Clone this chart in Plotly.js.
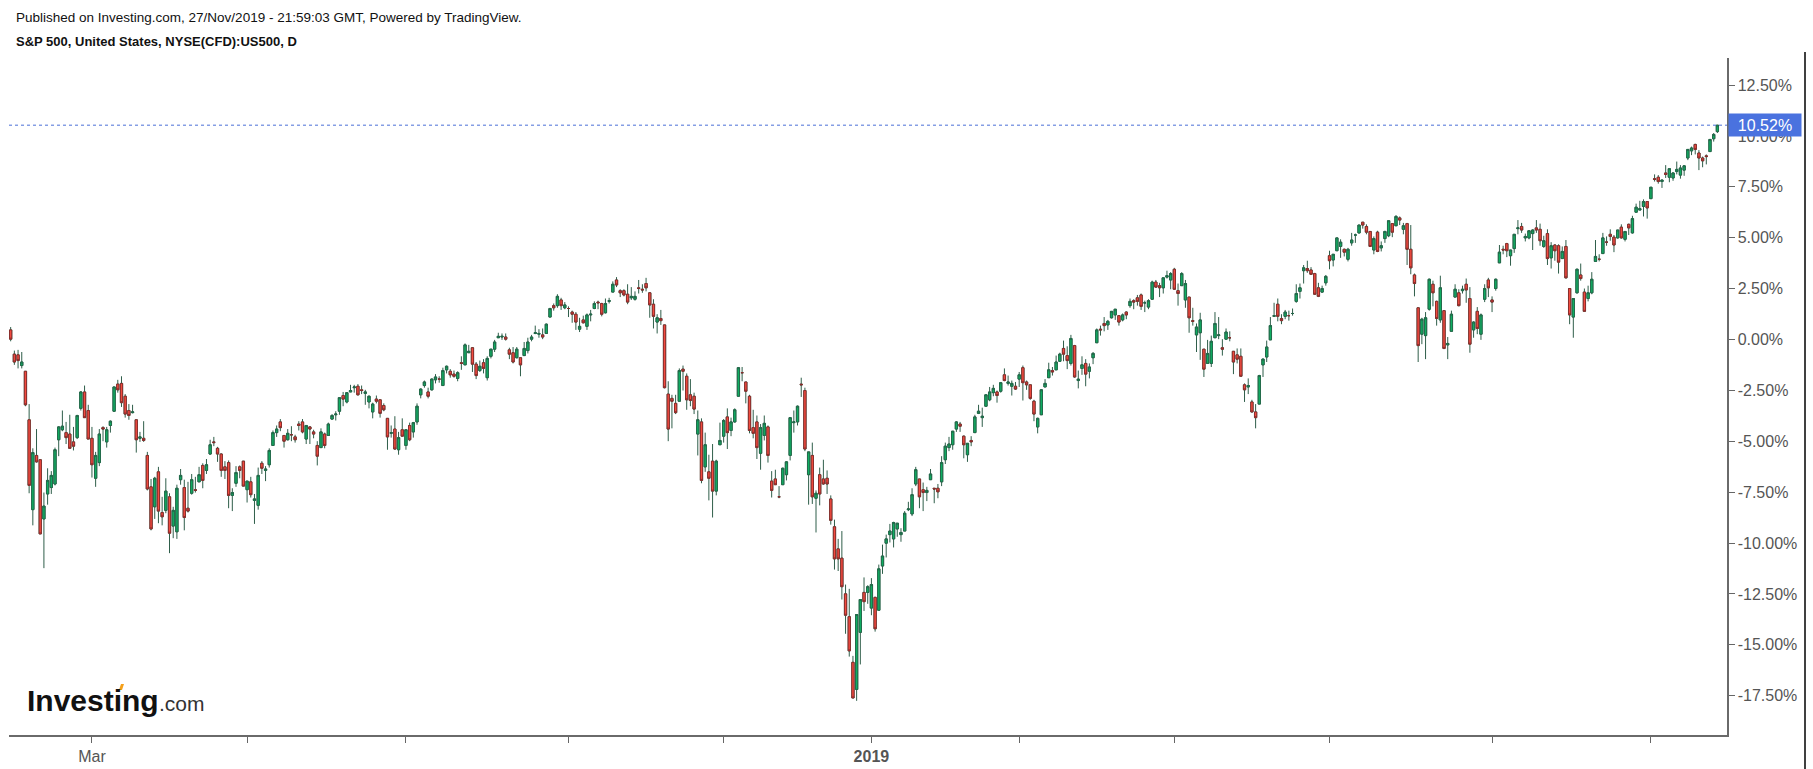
<!DOCTYPE html>
<html>
<head>
<meta charset="utf-8">
<script src="https://cdn.plot.ly/plotly-3.0.1.min.js"></script>
<style>
html,body{margin:0;padding:0;background:#fff;}
#chart{width:1813px;height:769px;}
</style>
</head>
<body>
<div id="chart"></div>
<script>
// ---- Data: S&P 500 (US500 CFD) daily candles, index points ----
const dates = [
'2018-01-29','2018-01-30','2018-01-31',
'2018-02-01','2018-02-02','2018-02-05','2018-02-06','2018-02-07','2018-02-08','2018-02-09','2018-02-12','2018-02-13','2018-02-14','2018-02-15','2018-02-16','2018-02-20','2018-02-21','2018-02-22','2018-02-23','2018-02-26','2018-02-27','2018-02-28',
'2018-03-01','2018-03-02','2018-03-05','2018-03-06','2018-03-07','2018-03-08','2018-03-09','2018-03-12','2018-03-13','2018-03-14','2018-03-15','2018-03-16','2018-03-19','2018-03-20','2018-03-21','2018-03-22','2018-03-23','2018-03-26','2018-03-27','2018-03-28','2018-03-29',
'2018-04-02','2018-04-03','2018-04-04','2018-04-05','2018-04-06','2018-04-09','2018-04-10','2018-04-11','2018-04-12','2018-04-13','2018-04-16','2018-04-17','2018-04-18','2018-04-19','2018-04-20','2018-04-23','2018-04-24','2018-04-25','2018-04-26','2018-04-27','2018-04-30',
'2018-05-01','2018-05-02','2018-05-03','2018-05-04','2018-05-07','2018-05-08','2018-05-09','2018-05-10','2018-05-11','2018-05-14','2018-05-15','2018-05-16','2018-05-17','2018-05-18','2018-05-21','2018-05-22','2018-05-23','2018-05-24','2018-05-25','2018-05-29','2018-05-30','2018-05-31',
'2018-06-01','2018-06-04','2018-06-05','2018-06-06','2018-06-07','2018-06-08','2018-06-11','2018-06-12','2018-06-13','2018-06-14','2018-06-15','2018-06-18','2018-06-19','2018-06-20','2018-06-21','2018-06-22','2018-06-25','2018-06-26','2018-06-27','2018-06-28','2018-06-29',
'2018-07-02','2018-07-03','2018-07-05','2018-07-06','2018-07-09','2018-07-10','2018-07-11','2018-07-12','2018-07-13','2018-07-16','2018-07-17','2018-07-18','2018-07-19','2018-07-20','2018-07-23','2018-07-24','2018-07-25','2018-07-26','2018-07-27','2018-07-30','2018-07-31',
'2018-08-01','2018-08-02','2018-08-03','2018-08-06','2018-08-07','2018-08-08','2018-08-09','2018-08-10','2018-08-13','2018-08-14','2018-08-15','2018-08-16','2018-08-17','2018-08-20','2018-08-21','2018-08-22','2018-08-23','2018-08-24','2018-08-27','2018-08-28','2018-08-29','2018-08-30','2018-08-31',
'2018-09-04','2018-09-05','2018-09-06','2018-09-07','2018-09-10','2018-09-11','2018-09-12','2018-09-13','2018-09-14','2018-09-17','2018-09-18','2018-09-19','2018-09-20','2018-09-21','2018-09-24','2018-09-25','2018-09-26','2018-09-27','2018-09-28',
'2018-10-01','2018-10-02','2018-10-03','2018-10-04','2018-10-05','2018-10-08','2018-10-09','2018-10-10','2018-10-11','2018-10-12','2018-10-15','2018-10-16','2018-10-17','2018-10-18','2018-10-19','2018-10-22','2018-10-23','2018-10-24','2018-10-25','2018-10-26','2018-10-29','2018-10-30','2018-10-31',
'2018-11-01','2018-11-02','2018-11-05','2018-11-06','2018-11-07','2018-11-08','2018-11-09','2018-11-12','2018-11-13','2018-11-14','2018-11-15','2018-11-16','2018-11-19','2018-11-20','2018-11-21','2018-11-23','2018-11-26','2018-11-27','2018-11-28','2018-11-29','2018-11-30',
'2018-12-03','2018-12-04','2018-12-06','2018-12-07','2018-12-10','2018-12-11','2018-12-12','2018-12-13','2018-12-14','2018-12-17','2018-12-18','2018-12-19','2018-12-20','2018-12-21','2018-12-24','2018-12-26','2018-12-27','2018-12-28','2018-12-31',
'2019-01-02','2019-01-03','2019-01-04','2019-01-07','2019-01-08','2019-01-09','2019-01-10','2019-01-11','2019-01-14','2019-01-15','2019-01-16','2019-01-17','2019-01-18','2019-01-22','2019-01-23','2019-01-24','2019-01-25','2019-01-28','2019-01-29','2019-01-30','2019-01-31',
'2019-02-01','2019-02-04','2019-02-05','2019-02-06','2019-02-07','2019-02-08','2019-02-11','2019-02-12','2019-02-13','2019-02-14','2019-02-15','2019-02-19','2019-02-20','2019-02-21','2019-02-22','2019-02-25','2019-02-26','2019-02-27','2019-02-28',
'2019-03-01','2019-03-04','2019-03-05','2019-03-06','2019-03-07','2019-03-08','2019-03-11','2019-03-12','2019-03-13','2019-03-14','2019-03-15','2019-03-18','2019-03-19','2019-03-20','2019-03-21','2019-03-22','2019-03-25','2019-03-26','2019-03-27','2019-03-28','2019-03-29',
'2019-04-01','2019-04-02','2019-04-03','2019-04-04','2019-04-05','2019-04-08','2019-04-09','2019-04-10','2019-04-11','2019-04-12','2019-04-15','2019-04-16','2019-04-17','2019-04-18','2019-04-22','2019-04-23','2019-04-24','2019-04-25','2019-04-26','2019-04-29','2019-04-30',
'2019-05-01','2019-05-02','2019-05-03','2019-05-06','2019-05-07','2019-05-08','2019-05-09','2019-05-10','2019-05-13','2019-05-14','2019-05-15','2019-05-16','2019-05-17','2019-05-20','2019-05-21','2019-05-22','2019-05-23','2019-05-24','2019-05-28','2019-05-29','2019-05-30','2019-05-31',
'2019-06-03','2019-06-04','2019-06-05','2019-06-06','2019-06-07','2019-06-10','2019-06-11','2019-06-12','2019-06-13','2019-06-14','2019-06-17','2019-06-18','2019-06-19','2019-06-20','2019-06-21','2019-06-24','2019-06-25','2019-06-26','2019-06-27','2019-06-28',
'2019-07-01','2019-07-02','2019-07-03','2019-07-05','2019-07-08','2019-07-09','2019-07-10','2019-07-11','2019-07-12','2019-07-15','2019-07-16','2019-07-17','2019-07-18','2019-07-19','2019-07-22','2019-07-23','2019-07-24','2019-07-25','2019-07-26','2019-07-29','2019-07-30','2019-07-31',
'2019-08-01','2019-08-02','2019-08-05','2019-08-06','2019-08-07','2019-08-08','2019-08-09','2019-08-12','2019-08-13','2019-08-14','2019-08-15','2019-08-16','2019-08-19','2019-08-20','2019-08-21','2019-08-22','2019-08-23','2019-08-26','2019-08-27','2019-08-28','2019-08-29','2019-08-30',
'2019-09-03','2019-09-04','2019-09-05','2019-09-06','2019-09-09','2019-09-10','2019-09-11','2019-09-12','2019-09-13','2019-09-16','2019-09-17','2019-09-18','2019-09-19','2019-09-20','2019-09-23','2019-09-24','2019-09-25','2019-09-26','2019-09-27','2019-09-30',
'2019-10-01','2019-10-02','2019-10-03','2019-10-04','2019-10-07','2019-10-08','2019-10-09','2019-10-10','2019-10-11','2019-10-14','2019-10-15','2019-10-16','2019-10-17','2019-10-18','2019-10-21','2019-10-22','2019-10-23','2019-10-24','2019-10-25','2019-10-28','2019-10-29','2019-10-30','2019-10-31',
'2019-11-01','2019-11-04','2019-11-05','2019-11-06','2019-11-07','2019-11-08','2019-11-11','2019-11-12','2019-11-13','2019-11-14','2019-11-15','2019-11-18','2019-11-19','2019-11-20','2019-11-21','2019-11-22','2019-11-25','2019-11-26','2019-11-27'
];
const opens = [
2867,2833,2832,
2817,2809,2741,2615,2691,2685,2602,2637,2646,2651,2713,2727,2723,2721,2710,2716,2757,2780,2754,
2715,2659,2681,2730,2710,2733,2753,2791,2792,2774,2754,2751,2741,2715,2715,2691,2647,2619,2668,2611,2614,
2633,2592,2584,2657,2646,2617,2638,2643,2654,2677,2670,2693,2710,2701,2693,2675,2681,2635,2652,2675,2683,
2643,2654,2628,2621,2680,2670,2678,2705,2723,2738,2719,2713,2720,2717,2735,2738,2714,2731,2724,2705,2702,2721,
2719,2742,2748,2753,2775,2766,2780,2786,2788,2783,2778,2766,2752,2770,2769,2761,2743,2722,2728,2699,2727,
2705,2733,2724,2738,2776,2789,2780,2783,2797,2798,2789,2811,2809,2805,2799,2821,2818,2835,2842,2819,2810,
2821,2800,2830,2840,2856,2857,2857,2839,2835,2828,2828,2831,2838,2854,2862,2861,2860,2862,2885,2901,2901,2909,2898,
2897,2892,2889,2868,2881,2872,2888,2897,2906,2904,2891,2907,2920,2937,2922,2922,2917,2912,2910,
2926,2924,2932,2919,2903,2878,2883,2874,2777,2771,2764,2767,2812,2802,2776,2774,2721,2738,2675,2668,2683,2641,2706,
2718,2745,2726,2738,2774,2807,2794,2774,2730,2738,2694,2719,2731,2655,2658,2633,2650,2664,2691,2737,2738,
2791,2782,2664,2691,2631,2664,2658,2659,2630,2591,2560,2547,2497,2465,2401,2363,2443,2499,2499,
2477,2492,2474,2536,2568,2580,2574,2588,2580,2585,2615,2609,2651,2658,2643,2639,2657,2645,2645,2654,2685,
2702,2706,2728,2735,2718,2692,2712,2723,2750,2744,2760,2769,2779,2780,2781,2804,2792,2788,2788,
2798,2814,2794,2790,2767,2731,2748,2787,2800,2810,2811,2823,2841,2831,2820,2845,2796,2813,2820,2809,2828,
2849,2868,2876,2874,2884,2888,2887,2881,2892,2901,2908,2912,2916,2905,2899,2910,2934,2929,2926,2941,2937,
2952,2922,2929,2909,2913,2880,2860,2863,2840,2820,2820,2856,2859,2842,2854,2856,2837,2832,2830,2790,2787,2766,
2752,2763,2818,2829,2853,2886,2903,2883,2886,2887,2890,2907,2921,2950,2953,2951,2946,2926,2920,2933,
2971,2965,2978,2984,2980,2966,2989,3000,3003,3018,3012,3005,2979,3004,2982,2995,2999,3016,3013,3024,3008,3016,
2980,2944,2898,2861,2859,2896,2931,2907,2881,2894,2846,2865,2913,2919,2922,2931,2911,2867,2893,2861,2910,2937,
2909,2925,2961,2980,2988,2971,2981,3009,3012,2996,2996,3002,3010,3008,2984,3002,2968,2986,2985,2967,
2984,2925,2885,2919,2944,2920,2911,2919,2963,2966,2974,2990,3001,2997,2996,3011,2994,3015,3003,3032,3035,3040,3047,
3051,3079,3081,3075,3087,3081,3080,3089,3084,3091,3108,3118,3127,3115,3108,3111,3117,3135,3145
];
const highs = [
2871,2838,2839,
2836,2809,2763,2701,2728,2685,2639,2673,2669,2702,2732,2754,2738,2748,2731,2748,2781,2789,2762,
2731,2696,2728,2732,2731,2740,2787,2797,2802,2777,2763,2762,2741,2724,2739,2696,2658,2661,2675,2633,2659,
2638,2619,2650,2672,2657,2654,2665,2661,2675,2680,2686,2713,2717,2703,2694,2683,2684,2645,2676,2677,2683,
2655,2661,2637,2674,2683,2676,2701,2726,2733,2742,2719,2728,2732,2720,2739,2742,2733,2732,2727,2711,2729,2723,
2737,2749,2753,2772,2780,2779,2790,2790,2791,2789,2783,2775,2765,2775,2769,2764,2743,2733,2746,2724,2743,
2727,2737,2738,2764,2785,2796,2786,2799,2805,2802,2814,2817,2812,2810,2809,2830,2848,2846,2843,2822,2824,
2826,2830,2840,2853,2863,2862,2862,2842,2843,2843,2828,2850,2856,2860,2873,2868,2869,2876,2898,2904,2917,2912,2906,
2900,2894,2892,2884,2887,2890,2895,2907,2908,2905,2911,2912,2935,2941,2924,2924,2931,2927,2921,
2937,2931,2940,2920,2910,2889,2895,2874,2795,2776,2776,2813,2817,2806,2798,2779,2754,2743,2723,2692,2707,2685,2737,
2742,2757,2744,2757,2815,2815,2794,2776,2755,2747,2735,2747,2733,2669,2671,2648,2674,2683,2744,2754,2761,
2800,2786,2696,2709,2642,2674,2685,2670,2635,2601,2574,2585,2510,2504,2410,2468,2489,2520,2509,
2519,2493,2538,2566,2580,2595,2598,2596,2589,2613,2626,2645,2675,2658,2653,2647,2672,2645,2651,2690,2709,
2717,2725,2739,2738,2719,2708,2718,2748,2762,2758,2776,2787,2790,2782,2794,2813,2803,2796,2794,
2808,2817,2796,2790,2769,2744,2784,2798,2821,2815,2831,2835,2852,2844,2860,2846,2810,2830,2826,2820,2836,
2869,2873,2885,2881,2893,2896,2887,2890,2893,2911,2910,2916,2918,2908,2910,2936,2937,2933,2940,2950,2948,
2954,2932,2948,2937,2913,2898,2876,2891,2840,2853,2859,2892,2885,2854,2869,2865,2837,2841,2841,2792,2799,2769,
2763,2804,2827,2852,2885,2905,2911,2889,2895,2894,2897,2931,2932,2958,2964,2955,2947,2933,2929,2944,
2978,2973,2996,2994,2981,2982,3003,3002,3014,3018,3015,3005,2998,3006,2991,3006,3020,3016,3028,3026,3017,3017,
3014,2946,2898,2884,2892,2939,2936,2908,2943,2894,2857,2894,2931,2924,2929,2939,2927,2879,2899,2890,2931,2940,
2914,2939,2986,2985,2989,2979,3001,3021,3017,3002,3006,3008,3021,3016,2999,3008,2990,2987,2987,2984,
2993,2925,2911,2953,2960,2925,2929,2948,2993,2973,3003,2998,3008,3000,3007,3015,3005,3016,3027,3044,3048,3050,3047,
3067,3085,3084,3078,3098,3093,3088,3103,3098,3098,3120,3124,3128,3119,3110,3113,3134,3143,3154
];
const lows = [
2851,2818,2813,
2813,2760,2638,2593,2681,2581,2533,2622,2637,2649,2690,2725,2707,2701,2698,2714,2754,2744,2714,
2660,2647,2676,2711,2702,2723,2752,2779,2759,2744,2741,2750,2695,2710,2710,2642,2586,2602,2596,2593,2610,
2554,2575,2574,2650,2586,2611,2636,2639,2654,2645,2665,2692,2704,2682,2661,2658,2617,2613,2647,2659,2648,
2625,2632,2595,2615,2665,2655,2674,2705,2717,2725,2702,2712,2711,2709,2726,2722,2707,2707,2715,2677,2702,2701,
2719,2741,2740,2748,2760,2764,2780,2779,2775,2777,2762,2757,2743,2764,2744,2753,2699,2716,2699,2692,2718,
2699,2711,2716,2734,2771,2786,2771,2782,2792,2793,2789,2806,2800,2800,2795,2811,2818,2835,2808,2798,2808,
2806,2796,2827,2836,2856,2853,2852,2826,2820,2827,2802,2831,2834,2851,2861,2856,2854,2862,2885,2894,2898,2895,2896,
2885,2877,2867,2864,2876,2867,2879,2896,2896,2886,2890,2904,2920,2927,2913,2914,2903,2909,2908,
2918,2919,2921,2884,2869,2862,2874,2785,2711,2729,2749,2767,2782,2755,2760,2749,2691,2652,2668,2628,2604,2635,2706,
2709,2700,2718,2737,2774,2795,2764,2722,2715,2686,2671,2712,2681,2632,2650,2631,2650,2656,2684,2723,2733,
2773,2697,2622,2623,2583,2621,2650,2637,2594,2531,2529,2489,2441,2409,2351,2347,2398,2473,2483,
2467,2444,2474,2525,2548,2569,2562,2577,2570,2585,2613,2606,2648,2617,2613,2627,2657,2624,2631,2648,2679,
2697,2699,2724,2724,2687,2682,2704,2723,2749,2731,2760,2767,2774,2765,2779,2795,2789,2775,2783,
2787,2768,2783,2769,2739,2722,2748,2787,2800,2803,2811,2822,2823,2812,2817,2800,2785,2804,2788,2799,2819,
2849,2859,2865,2867,2883,2881,2873,2879,2882,2898,2896,2901,2895,2892,2896,2909,2926,2913,2918,2939,2924,
2923,2901,2929,2898,2863,2873,2836,2825,2801,2820,2815,2856,2854,2831,2854,2851,2805,2820,2802,2766,2777,2751,
2729,2763,2801,2822,2853,2886,2879,2875,2882,2880,2887,2905,2911,2932,2947,2944,2916,2913,2919,2929,
2952,2956,2978,2968,2970,2963,2985,2989,3002,3009,3001,2984,2973,2976,2977,2989,2997,2997,3013,3014,3001,2958,
2945,2914,2822,2847,2826,2894,2900,2873,2877,2840,2826,2865,2913,2900,2918,2905,2835,2856,2861,2853,2906,2913,
2892,2922,2961,2973,2969,2957,2975,3001,3003,2991,2994,2979,3003,2985,2982,2958,2953,2964,2946,2967,
2939,2875,2856,2918,2936,2893,2907,2917,2963,2963,2974,2985,2992,2976,2995,2995,2991,3000,3002,3032,3035,3026,3023,
3051,3075,3072,3066,3080,3074,3076,3085,3079,3083,3105,3112,3113,3091,3095,3099,3117,3131,3143
];
const closes = [
2854,2822,2824,
2822,2762,2649,2695,2682,2581,2620,2656,2663,2699,2731,2732,2716,2701,2704,2747,2780,2744,2714,
2678,2691,2721,2728,2727,2739,2787,2783,2765,2749,2747,2752,2713,2717,2712,2644,2588,2659,2613,2605,2641,
2582,2614,2645,2663,2604,2613,2657,2642,2664,2656,2678,2706,2709,2693,2670,2670,2635,2639,2667,2670,2648,
2655,2636,2630,2663,2673,2672,2698,2723,2728,2730,2711,2722,2720,2713,2733,2724,2733,2728,2721,2690,2724,2705,
2735,2747,2749,2772,2770,2779,2782,2787,2776,2782,2780,2774,2763,2767,2750,2755,2717,2723,2700,2716,2718,
2727,2713,2737,2760,2784,2794,2774,2798,2801,2798,2810,2816,2804,2802,2807,2820,2846,2837,2819,2803,2816,
2813,2827,2840,2850,2858,2858,2854,2833,2822,2840,2818,2841,2850,2857,2863,2862,2857,2875,2897,2898,2914,2901,2902,
2897,2889,2878,2872,2877,2888,2889,2904,2905,2889,2904,2908,2931,2930,2919,2916,2906,2914,2914,
2925,2923,2926,2902,2886,2884,2880,2786,2728,2767,2751,2810,2809,2769,2768,2756,2741,2656,2706,2659,2641,2683,2712,
2740,2723,2738,2755,2814,2807,2781,2726,2722,2702,2730,2736,2691,2642,2650,2633,2673,2682,2744,2738,2760,
2790,2700,2696,2633,2638,2637,2651,2651,2600,2546,2546,2507,2467,2417,2351,2468,2489,2486,2507,
2510,2448,2532,2550,2574,2585,2597,2596,2583,2610,2616,2636,2671,2633,2639,2642,2665,2644,2640,2681,2704,
2707,2725,2738,2732,2706,2708,2710,2745,2753,2746,2776,2780,2785,2775,2793,2796,2794,2792,2784,
2804,2793,2790,2771,2749,2743,2783,2792,2811,2808,2822,2833,2833,2824,2855,2801,2798,2818,2805,2815,2834,
2867,2867,2873,2879,2893,2896,2878,2888,2888,2907,2906,2907,2900,2905,2908,2934,2927,2926,2940,2943,2946,
2924,2918,2946,2932,2884,2879,2871,2881,2812,2834,2851,2876,2860,2840,2864,2856,2822,2826,2802,2783,2789,2752,
2744,2803,2826,2843,2873,2887,2886,2880,2892,2887,2890,2918,2926,2954,2950,2945,2917,2914,2925,2942,
2964,2973,2996,2990,2976,2980,2993,3000,3014,3014,3004,2984,2995,2977,2985,3005,3020,3004,3026,3021,3013,2980,
2954,2932,2845,2882,2884,2938,2919,2883,2926,2841,2848,2889,2924,2901,2924,2923,2847,2878,2869,2888,2925,2926,
2906,2938,2976,2979,2978,2979,3001,3010,3007,2998,3006,3007,3007,2992,2992,2967,2985,2978,2962,2977,
2940,2888,2911,2952,2939,2893,2919,2938,2970,2966,2996,2990,2998,2986,3007,2996,3005,3010,3023,3039,3037,3047,3038,
3067,3078,3075,3077,3085,3093,3087,3092,3094,3097,3120,3122,3120,3108,3104,3110,3134,3141,3154
];
// Percent scale: 0% = first bar's close
const BASE = 2853.53;
const pctTicks = [12.5, 10, 7.5, 5, 2.5, 0, -2.5, -5, -7.5, -10, -12.5, -15, -17.5];
const pctTickText = ['12.50%','10.00%','7.50%','5.00%','2.50%','0.00%','-2.50%','-5.00%','-7.50%','-10.00%','-12.50%','-15.00%','-17.50%'];
const xTickDates = ['2018-03-01','2018-05-01','2018-07-02','2018-09-04','2018-11-01','2019-01-02','2019-03-01','2019-05-01','2019-07-01','2019-09-03','2019-11-01'];
const xTickText = ['Mar','','','','','<b>2019</b>','','','','',''];
const lastLabel = '10.52%';

if (![opens, highs, lows, closes].every(a => a.length === dates.length)) {
  document.body.insertAdjacentHTML('afterbegin', '<div style="color:red">length mismatch ' +
    [dates, opens, highs, lows, closes].map(a => a.length).join(',') + '</div>');
}

// ---- Layout geometry (pixels) ----
const W = 1813, H = 769, ML = 9, MR = 86, MT = 58, MB = 34;
const PW = W - ML - MR, PH = H - MT - MB;
const px = x => (x - ML) / PW;
const py = y => (H - MB - y) / PH;
const FONT = 'Liberation Sans, Arial, sans-serif';

const bodyTop = opens.map((o, i) => Math.max(o, closes[i]));
const bodyBot = opens.map((o, i) => Math.min(o, closes[i]));

const WICK = '#2f5e4a';
const wicks = {
  type: 'candlestick', x: dates, open: opens, high: highs, low: lows, close: closes,
  increasing: {line: {color: WICK, width: 1}, fillcolor: WICK},
  decreasing: {line: {color: WICK, width: 1}, fillcolor: WICK},
  whiskerwidth: 0, hoverinfo: 'skip', showlegend: false
};
const bodies = {
  type: 'candlestick', x: dates, open: opens, high: bodyTop, low: bodyBot, close: closes,
  increasing: {line: {color: '#24684a', width: 0.9}, fillcolor: '#0fae62'},
  decreasing: {line: {color: '#8a2a2a', width: 0.9}, fillcolor: '#f24b3f'},
  whiskerwidth: 0, hoverinfo: 'skip', showlegend: false
};

const lastClose = closes[closes.length - 1];

const layout = {
  width: W, height: H,
  margin: {l: ML, r: MR, t: MT, b: MB, pad: 0},
  paper_bgcolor: '#ffffff', plot_bgcolor: '#ffffff',
  showlegend: false,
  font: {family: FONT, color: '#555'},
  boxmode: 'overlay',
  boxgap: 0.12,
  xaxis: {
    type: 'category', range: [-0.45, 464.6],
    tickmode: 'array', tickvals: xTickDates, ticktext: xTickText,
    ticks: 'outside', ticklen: 6, tickwidth: 1, tickcolor: '#666',
    tickfont: {family: FONT, size: 16, color: '#555'},
    showline: true, linecolor: '#6a6a6a', linewidth: 1.5,
    showgrid: false, zeroline: false, fixedrange: true,
    rangeslider: {visible: false}
  },
  yaxis: {
    side: 'right',
    range: [BASE * (1 - 0.1943), BASE * (1 + 0.1383)],
    tickmode: 'array', tickvals: pctTicks.map(p => BASE * (1 + p / 100)), ticktext: pctTickText,
    ticks: 'outside', ticklen: 6, tickwidth: 1, tickcolor: '#666',
    tickfont: {family: FONT, size: 16, color: '#555'},
    showline: true, linecolor: '#6a6a6a', linewidth: 1.5,
    showgrid: false, zeroline: false, fixedrange: true
  },
  shapes: [
    {type: 'line', xref: 'paper', yref: 'y', x0: 0, x1: 1, y0: lastClose, y1: lastClose,
     line: {color: '#4a6fd8', width: 1, dash: 'dot'}},
    {type: 'line', xref: 'paper', yref: 'paper', x0: px(1805), x1: px(1805), y0: py(52), y1: py(769),
     line: {color: '#000', width: 1.5}},
    {type: 'path', xref: 'paper', yref: 'paper',
     path: `M ${px(119)} ${py(690)} L ${px(121)} ${py(684)} L ${px(124)} ${py(684)} L ${px(122)} ${py(690)} Z`,
     fillcolor: '#f5a01a', line: {width: 0}}
  ],
  annotations: [
    {xref: 'paper', yref: 'paper', x: px(14), y: py(17.5), xanchor: 'left', yanchor: 'middle', showarrow: false,
     text: 'Published on Investing.com, 27/Nov/2019 - 21:59:03 GMT, Powered by TradingView.',
     font: {family: FONT, size: 13.5, color: '#111'}},
    {xref: 'paper', yref: 'paper', x: px(14), y: py(41), xanchor: 'left', yanchor: 'middle', showarrow: false,
     text: '<b>S&amp;P 500, United States, NYSE(CFD):US500, D</b>',
     font: {family: FONT, size: 13, color: '#111'}},
    {xref: 'paper', yref: 'paper', x: px(25), y: py(700), xanchor: 'left', yanchor: 'middle', showarrow: false,
     text: '<b>Investing</b>', font: {family: FONT, size: 30, color: '#111'}},
    {xref: 'paper', yref: 'paper', x: px(157), y: py(703), xanchor: 'left', yanchor: 'middle', showarrow: false,
     text: '.com', font: {family: FONT, size: 21, color: '#333'}},
    {xref: 'paper', yref: 'y', x: 1, y: lastClose, xanchor: 'left', yanchor: 'middle', showarrow: false,
     xshift: 1, text: lastLabel, width: 70, height: 20, align: 'center', bgcolor: '#4a72df', borderpad: 1,
     font: {family: FONT, size: 16, color: '#ffffff'}}
  ]
};

Plotly.newPlot('chart', [wicks, bodies], layout, {displayModeBar: false, staticPlot: true});
</script>
</body>
</html>
